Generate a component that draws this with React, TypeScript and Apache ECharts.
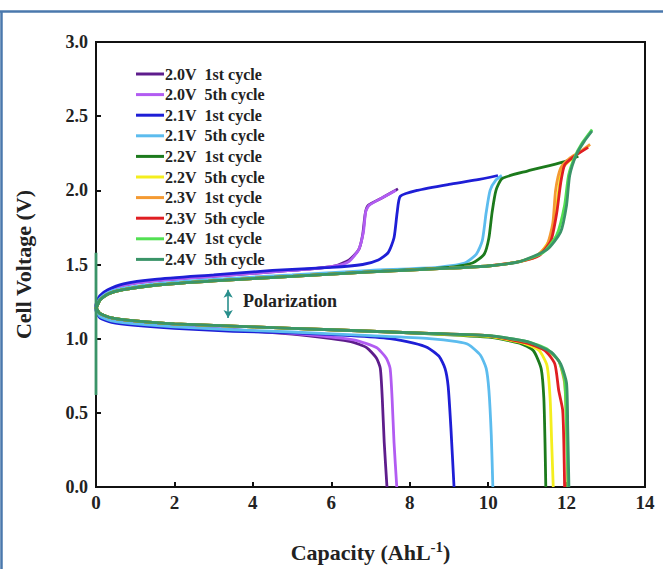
import React, { useEffect, useRef } from "react";
import * as echarts from "echarts";

// ---------- data (capacity AhL^-1, voltage V) ----------
const seriesNames = [
  "2.0V\u00a0 1st cycle",
  "2.0V\u00a0 5th cycle",
  "2.1V\u00a0 1st cycle",
  "2.1V\u00a0 5th cycle",
  "2.2V\u00a0 1st cycle",
  "2.2V\u00a0 5th cycle",
  "2.3V\u00a0 1st cycle",
  "2.3V\u00a0 5th cycle",
  "2.4V\u00a0 1st cycle",
  "2.4V\u00a0 5th cycle",
];

const seriesColors = [
  "#5e1d8c",
  "#b25cf2",
  "#1e1ed6",
  "#5cbcee",
  "#1c7a1c",
  "#f4ee1e",
  "#f49a32",
  "#e01e22",
  "#52e052",
  "#3a9468",
];

const charge20a = [[0,1.22],[0.1,1.28],[0.3,1.32],[0.7,1.36],[1.5,1.39],[3,1.42],[4.5,1.45],[5.5,1.47],[6.1,1.49],[6.45,1.53],[6.7,1.6],[6.8,1.7],[6.87,1.85],[6.95,1.9],[7.3,1.95],[7.7,2.01]];
const discharge20a = [[0,1.2],[0.1,1.15],[0.4,1.12],[1,1.1],[2,1.08],[3.5,1.06],[5,1.03],[6,1.0],[6.5,0.98],[6.9,0.94],[7.15,0.87],[7.25,0.8],[7.3,0.6],[7.35,0.3],[7.42,0]];

const charge20e = [[0,1.22],[0.1,1.28],[0.3,1.32],[0.7,1.36],[1.5,1.39],[3,1.42],[4.5,1.45],[5.5,1.47],[6.1,1.49],[6.45,1.52],[6.7,1.6],[6.82,1.72],[6.88,1.86],[6.97,1.9],[7.3,1.95],[7.65,2.0]];
const discharge20e = [[0,1.2],[0.1,1.15],[0.4,1.12],[1,1.1],[2,1.08],[3.5,1.06],[5,1.035],[6,1.01],[6.6,0.99],[7.15,0.94],[7.4,0.87],[7.5,0.8],[7.55,0.6],[7.6,0.3],[7.67,0]];

const charge21a = [[0,1.23],[0.1,1.29],[0.3,1.33],[0.7,1.37],[1.5,1.4],[3,1.43],[4.5,1.46],[6,1.48],[6.8,1.5],[7.2,1.53],[7.45,1.58],[7.6,1.68],[7.68,1.85],[7.76,1.96],[8.2,2.0],[9,2.04],[9.7,2.07],[10.25,2.1]];
const discharge21a = [[0,1.19],[0.1,1.14],[0.4,1.11],[1,1.09],[2,1.07],[3.5,1.05],[5,1.04],[6.5,1.02],[7.5,1.0],[8.1,0.97],[8.45,0.94],[8.75,0.88],[8.9,0.8],[8.98,0.68],[9.05,0.4],[9.13,0]];

const charge21e = [[0,1.21],[0.1,1.27],[0.3,1.31],[0.7,1.34],[1.5,1.37],[3,1.4],[5,1.43],[7,1.46],[8.7,1.48],[9.4,1.51],[9.7,1.57],[9.85,1.66],[9.95,1.85],[10.05,2.0],[10.2,2.07],[10.35,2.1]];
const discharge21e = [[0,1.2],[0.1,1.15],[0.4,1.12],[1,1.1],[2,1.08],[3.5,1.06],[5,1.045],[7,1.02],[8.5,1.0],[9.2,0.98],[9.5,0.96],[9.8,0.89],[9.95,0.8],[10.02,0.65],[10.08,0.35],[10.12,0]];

const charge22a = [[0,1.2],[0.1,1.26],[0.3,1.3],[0.7,1.33],[1.5,1.36],[3,1.39],[5,1.42],[7,1.45],[9,1.48],[9.6,1.51],[9.9,1.57],[10.02,1.68],[10.1,1.85],[10.2,2.0],[10.36,2.08],[11,2.13],[11.9,2.19],[12.3,2.23]];
const discharge22a = [[0,1.21],[0.1,1.17],[0.4,1.14],[1,1.12],[2,1.1],[4,1.08],[6,1.06],[8,1.04],[10,1.01],[10.8,0.97],[11.15,0.92],[11.35,0.8],[11.42,0.6],[11.45,0.3],[11.47,0]];

const charge22e = [[0,1.2],[0.1,1.26],[0.3,1.3],[0.7,1.33],[1.5,1.36],[3,1.39],[5,1.42],[7,1.45],[9,1.475],[10,1.49],[10.8,1.52],[11.3,1.57],[11.55,1.66],[11.7,1.8],[11.8,2.0],[11.9,2.15],[12.3,2.25]];
const discharge22e = [[0,1.21],[0.1,1.17],[0.4,1.14],[1,1.12],[2,1.1],[4,1.08],[6,1.06],[8,1.04],[10,1.015],[10.9,0.97],[11.3,0.92],[11.5,0.82],[11.58,0.6],[11.62,0.3],[11.66,0]];

const charge23a = [[0,1.2],[0.1,1.26],[0.3,1.3],[0.7,1.33],[1.5,1.36],[3,1.39],[5,1.42],[7,1.45],[9,1.475],[10,1.49],[10.8,1.52],[11.2,1.55],[11.5,1.63],[11.65,1.78],[11.72,2.0],[11.85,2.15],[12.1,2.22],[12.4,2.27],[12.6,2.31]];
const discharge23a = [[0,1.21],[0.1,1.17],[0.4,1.14],[1,1.12],[2,1.1],[4,1.08],[6,1.06],[8,1.04],[10,1.02],[11,0.97],[11.5,0.92],[11.8,0.85],[11.95,0.7],[12.0,0.4],[12.03,0]];

const charge23e = [[0,1.2],[0.1,1.26],[0.3,1.3],[0.7,1.33],[1.5,1.36],[3,1.39],[5,1.42],[7,1.45],[9,1.475],[10,1.49],[10.8,1.52],[11.3,1.56],[11.6,1.66],[11.75,1.85],[11.85,2.05],[11.95,2.17],[12.2,2.23],[12.55,2.29]];
const discharge23e = [[0,1.21],[0.1,1.17],[0.4,1.14],[1,1.12],[2,1.1],[4,1.08],[6,1.06],[8,1.04],[10,1.02],[11,0.97],[11.45,0.92],[11.7,0.83],[11.8,0.65],[11.9,0.52],[11.93,0.3],[11.95,0]];

const charge24a = [[0,1.2],[0.1,1.26],[0.3,1.3],[0.7,1.33],[1.5,1.36],[3,1.39],[5,1.42],[7,1.45],[9,1.475],[10,1.49],[10.8,1.52],[11.4,1.58],[11.75,1.7],[11.95,1.9],[12.05,2.1],[12.2,2.22],[12.4,2.32],[12.65,2.41]];
const discharge24a = [[0,1.21],[0.1,1.17],[0.4,1.14],[1,1.12],[2,1.1],[4,1.08],[6,1.06],[8,1.04],[10,1.02],[11,0.98],[11.5,0.93],[11.8,0.85],[11.95,0.72],[12.0,0.4],[12.04,0]];

const charge24e = [[0,0.62],[0,1.58],[0,1.2],[0.1,1.26],[0.3,1.3],[0.7,1.33],[1.5,1.36],[3,1.39],[5,1.42],[7,1.45],[9,1.475],[10,1.49],[10.8,1.52],[11.5,1.6],[11.85,1.72],[12.0,1.9],[12.08,2.1],[12.25,2.24],[12.45,2.33],[12.65,2.4]];
const discharge24e = [[0,1.21],[0.1,1.17],[0.4,1.14],[1,1.12],[2,1.1],[4,1.08],[6,1.06],[8,1.04],[10,1.02],[11,0.98],[11.6,0.91],[11.85,0.83],[12.0,0.7],[12.03,0.4],[12.06,0]];

const chargeCurves = [charge20a, charge20e, charge21a, charge21e, charge22a, charge22e, charge23a, charge23e, charge24a, charge24e];
const dischargeCurves = [discharge20a, discharge20e, discharge21a, discharge21e, discharge22a, discharge22e, discharge23a, discharge23e, discharge24a, discharge24e];

const xTicks = { min: 0, max: 14, interval: 2 };
const yTicks = { min: 0, max: 3, interval: 0.5 };

const polarizationArrow = [[3.37, 1.33], [3.37, 1.14]];

const SERIF = "'Liberation Serif', 'DejaVu Serif', serif";

export default function App() {
  const ref = useRef<HTMLDivElement>(null);

  useEffect(() => {
    if (!ref.current) return;
    const chart = echarts.init(ref.current, null, { renderer: "svg" });

    const series: any[] = seriesNames.map((name, i) => ({
      name,
      type: "line",
      symbol: "none",
      smooth: 0.2,
      data: [...chargeCurves[i]].reverse().concat(dischargeCurves[i]),
      lineStyle: { color: seriesColors[i], width: 2.8 },
      itemStyle: { color: seriesColors[i] },
      z: 2 + i,
    }));

    series.push({
      name: "arrow",
      type: "line",
      data: [],
      markLine: {
        silent: true,
        symbol: ["arrow", "arrow"],
        symbolSize: [7, 8],
        label: { show: false },
        lineStyle: { color: "#2a8f8c", width: 1.6, type: "solid" },
        data: [[{ coord: polarizationArrow[0] }, { coord: polarizationArrow[1] }]],
      },
    });

    chart.setOption({
      animation: false,
      backgroundColor: "#ffffff",
      grid: {
        left: 96,
        right: 18,
        top: 42,
        bottom: 82,
        show: true,
        borderColor: "#111",
        borderWidth: 2,
        backgroundColor: "transparent",
      },
      legend: {
        data: seriesNames,
        orient: "vertical",
        left: 131,
        top: 61,
        itemWidth: 28,
        itemHeight: 3,
        itemGap: 4.6,
        icon: "rect",
        textStyle: {
          fontFamily: SERIF,
          fontWeight: "bold",
          fontSize: 16,
          color: "#222",
          padding: [0, 0, 0, -4],
        },
      },
      xAxis: {
        type: "value",
        ...xTicks,
        name: "Capacity (AhL{sup|-1})",
        nameLocation: "middle",
        nameGap: 52,
        nameTextStyle: {
          fontFamily: SERIF,
          fontWeight: "bold",
          fontSize: 22,
          color: "#222",
          rich: {
            sup: {
              fontFamily: SERIF,
              fontWeight: "bold",
              fontSize: 15,
              color: "#222",
              verticalAlign: "top",
              padding: [0, 0, 12, 0],
            },
          },
        },
        axisLine: { lineStyle: { color: "#111", width: 2 } },
        axisTick: { inside: true, length: 5, lineStyle: { color: "#111", width: 2 } },
        axisLabel: {
          fontFamily: SERIF,
          fontWeight: "bold",
          fontSize: 19,
          color: "#222",
          margin: 6,
        },
        splitLine: { show: false },
      },
      yAxis: {
        type: "value",
        ...yTicks,
        name: "Cell Voltage (V)",
        nameLocation: "middle",
        nameGap: 62,
        nameTextStyle: {
          fontFamily: SERIF,
          fontWeight: "bold",
          fontSize: 22,
          color: "#222",
        },
        axisLine: { lineStyle: { color: "#111", width: 2 } },
        axisTick: { inside: true, length: 5, lineStyle: { color: "#111", width: 2 } },
        axisLabel: {
          fontFamily: SERIF,
          fontWeight: "bold",
          fontSize: 18,
          color: "#222",
          margin: 8,
          formatter: (v: number) => v.toFixed(1),
        },
        splitLine: { show: false },
      },
      graphic: [
        {
          type: "line",
          shape: { x1: 0, y1: 11.5, x2: 663, y2: 11.5 },
          style: { stroke: "#4a78ad", lineWidth: 2.5 },
          z: 100,
        },
        {
          type: "line",
          shape: { x1: 1.5, y1: 11, x2: 1.5, y2: 569 },
          style: { stroke: "#4a78ad", lineWidth: 2.5 },
          z: 100,
        },
        {
          type: "text",
          left: 243,
          top: 292,
          style: {
            text: "Polarization",
            fontFamily: SERIF,
            fontWeight: "bold",
            fontSize: 18,
            fill: "#222",
          },
          z: 100,
        },
      ],
      series,
    });

    return () => chart.dispose();
  }, []);

  return (
    <div
      ref={ref}
      style={{ position: "fixed", left: 0, top: 0, width: 663, height: 569 }}
    />
  );
}
